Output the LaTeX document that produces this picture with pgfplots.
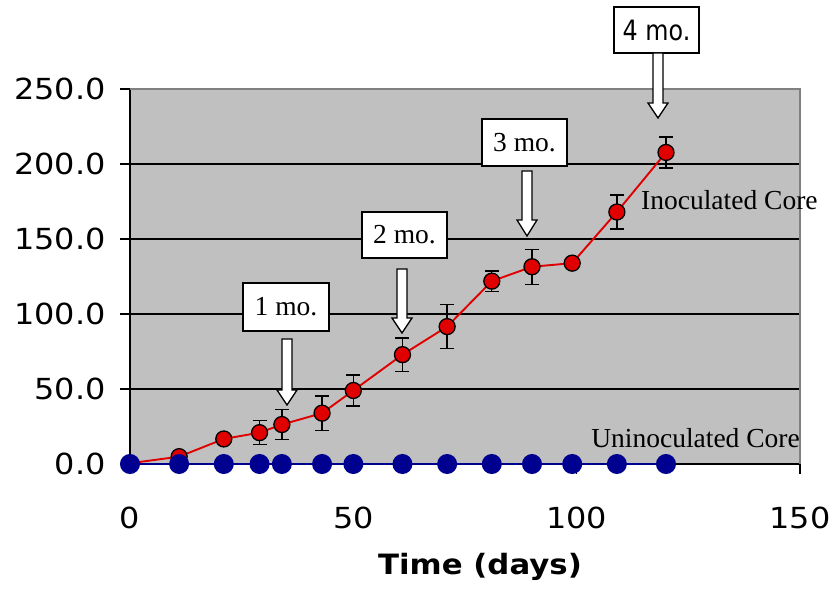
\documentclass[border=0pt]{standalone}
\usepackage{fontspec}
\setmainfont{Liberation Serif}
\newfontfamily\sansf[FakeStretch=1.1]{DejaVu Sans}
\newfontfamily\sanscond[FakeStretch=0.85]{DejaVu Sans}
\usepackage{pgfplots}
\usepackage{pgfplotstable}
\pgfplotsset{compat=1.18}
\definecolor{plotgray}{HTML}{C0C0C0}
\definecolor{bordergray}{HTML}{808080}
\definecolor{ptred}{HTML}{E00000}
\definecolor{navy}{HTML}{000090}

\pgfplotstableread{
day val err
0   0.5   0
11  4.9   1
21  16.7  3
29  20.9  7.9
34  26.3  10
43  33.9  11.5
50  49.0  10.4
61  72.9  11
71  91.6  14.5
81  121.9 6.7
90  131.5 11.7
99  133.9 2
109 168.0 11.4
120 207.7 10.3
}\inoc

\pgfplotstableread{
day val
0   0
11  0
21  0
29  0
34  0
43  0
50  0
61  0
71  0
81  0
90  0
99  0
109 0
120 0
}\uninoc

\begin{document}
\begin{tikzpicture}
\begin{axis}[
  scale only axis, width=670pt, height=375pt,
  xmin=0, xmax=150, ymin=0, ymax=250,
  xtick={0,50,100,150}, ytick={0,50,...,250},
  axis x line*=bottom, axis y line*=left,
  axis line style={black, line width=1.3pt},
  axis background/.style={fill=plotgray},
  ymajorgrids, grid style={black, line width=1.5pt},
  tick align=outside, major tick length=10pt,
  tick style={black, line width=1.3pt},
  y tick label style={/pgf/number format/.cd, fixed, fixed zerofill, precision=1, /tikz/.cd, xshift=-11pt},
  x tick label style={yshift=-29pt},
  /pgf/number format/assume math mode=true,
  ticklabel style={font=\sansf\fontsize{29}{32}\selectfont},
  xlabel={Time (days)},
  xlabel style={font=\sansf\bfseries\fontsize{28}{32}\selectfont,
    at={(axis description cs:0.5,0)}, anchor=center, xshift=15pt, yshift=-103pt},
  clip=false,
]
\addplot[ptred, line width=1.9pt, mark=*, mark size=8pt,
  mark options={fill=ptred, draw=black, line width=1.3pt},
  error bars/.cd, y dir=both, y explicit,
  error bar style={black, line width=1.3pt},
  error mark options={rotate=90, mark size=7pt, line width=1.3pt, black}]
  table[x=day, y=val, y error=err] {\inoc};
\addplot[navy, line width=2pt, mark=*, mark size=9pt,
  mark options={fill=navy, draw=none}]
  table[x=day, y=val] {\uninoc};
\draw[bordergray, line width=1.5pt] (rel axis cs:0,1) -- (rel axis cs:1,1) -- (rel axis cs:1,0);
\end{axis}

\begin{scope}[shift={(current axis.south west)}, xshift=-130pt, yshift=464pt, x=1pt, y=-1pt]
  \node[font=\fontsize{27.5}{30}\selectfont, anchor=west, inner sep=0pt] at (641,200) {Inoculated Core};
  \node[font=\fontsize{27.5}{30}\selectfont, anchor=east, inner sep=0pt] at (800,438) {Uninoculated Core};
  % boxes
  \foreach \xa/\ya/\xb/\yb/\t in {243/283/329/331/1 mo., 362/212/447/258/2 mo., 482/119/567/166/3 mo.} {
    \draw[fill=white, line width=1.2pt] (\xa,\ya) rectangle (\xb,\yb);
    \node[font=\fontsize{27.5}{30}\selectfont] at ({(\xa+\xb)/2},{(\ya+\yb)/2}) {\t};
  }
  \draw[fill=white, line width=1.2pt] (614,7) rectangle (699,53);
  \node[font=\sanscond\fontsize{28}{30}\selectfont] at (656.5,30) {4 mo.};
  % arrows
  \foreach \cx/\ya/\yb/\yc in {287/339/390/405, 402/269/318/333, 527/171/220/236, 658/53/103/118} {
    \draw[fill=white, line width=1.3pt] (\cx-5,\ya) -- (\cx+5,\ya) -- (\cx+5,\yb) -- (\cx+10,\yb)
      -- (\cx,\yc) -- (\cx-10,\yb) -- (\cx-5,\yb) -- cycle;
  }
  \pgfresetboundingbox
  \path[use as bounding box] (0,0) rectangle (835,589);
\end{scope}
\end{tikzpicture}
\end{document}
